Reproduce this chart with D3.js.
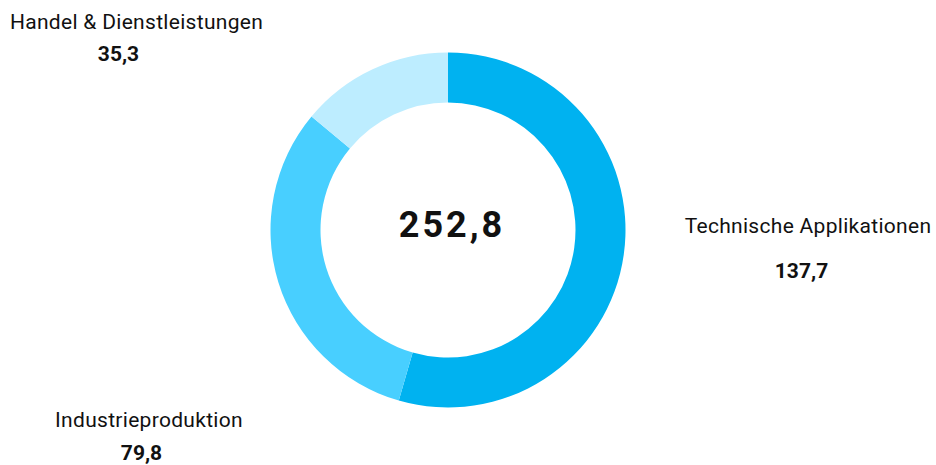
<!DOCTYPE html>
<html>
<head>
<meta charset="utf-8">
<script src="https://cdn.jsdelivr.net/npm/d3@7"></script>
<style>
  body { margin: 0; background: #fff; }
  text { font-family: Roboto, "Noto Sans", sans-serif; fill: #111; }
  .lbl { font-size: 21px; font-weight: 400; letter-spacing: 0.3px; }
  .val { font-size: 21px; font-weight: 700; }
  .total { font-size: 36px; font-weight: 700; letter-spacing: 3px; }
</style>
</head>
<body>
<div id="chart"></div>
<script>
// Segments, clockwise from 12 o'clock
var categories = ["Technische Applikationen", "Industrieproduktion", "Handel & Dienstleistungen"];
var values = [137.7, 79.8, 35.3];
var colors = ["#00b2f0", "#48cfff", "#bdedff"];

// where the labels sit, relative to the donut centre (label centre x, label baseline, value centre x, value baseline)
var labelPos = [
	[360, 3, 353.5, 48],
	[-299, 197, -306.5, 230],
	[-311.5, -201, -329.5, -169]
];

var W = 936, H = 465,
	cx = 448, cy = 230,
	outerR = 177.5, innerR = 127.5;

var fmt = function(v){ return d3.format(".1f")(v).replace(".", ","); };

var svg = d3.select("#chart").append("svg")
	.attr("width", W)
	.attr("height", H);

var g = svg.append("g")
	.attr("transform", "translate(" + cx + "," + cy + ")");

var pie = d3.pie().sort(null).value(function(d){ return d; });
var arc = d3.arc().innerRadius(innerR).outerRadius(outerR);

var arcs = pie(values);

g.selectAll(".slice")
	.data(arcs)
	.enter().append("path")
	.attr("class", "slice")
	.attr("d", arc)
	.style("fill", function(d, i){ return colors[i]; });

// centre total
g.append("text")
	.attr("class", "total")
	.attr("text-anchor", "middle")
	.attr("x", 4)
	.attr("y", 7)
	.text(fmt(d3.sum(values)));

// category labels + values
var lab = g.selectAll(".labelGrp")
	.data(arcs)
	.enter().append("g")
	.attr("class", "labelGrp");

lab.append("text")
	.attr("class", "lbl")
	.attr("text-anchor", "middle")
	.attr("x", function(d, i){ return labelPos[i][0]; })
	.attr("y", function(d, i){ return labelPos[i][1]; })
	.text(function(d, i){ return categories[i]; });

lab.append("text")
	.attr("class", "val")
	.attr("text-anchor", "middle")
	.attr("x", function(d, i){ return labelPos[i][2]; })
	.attr("y", function(d, i){ return labelPos[i][3]; })
	.text(function(d){ return fmt(d.value); });
</script>
</body>
</html>
